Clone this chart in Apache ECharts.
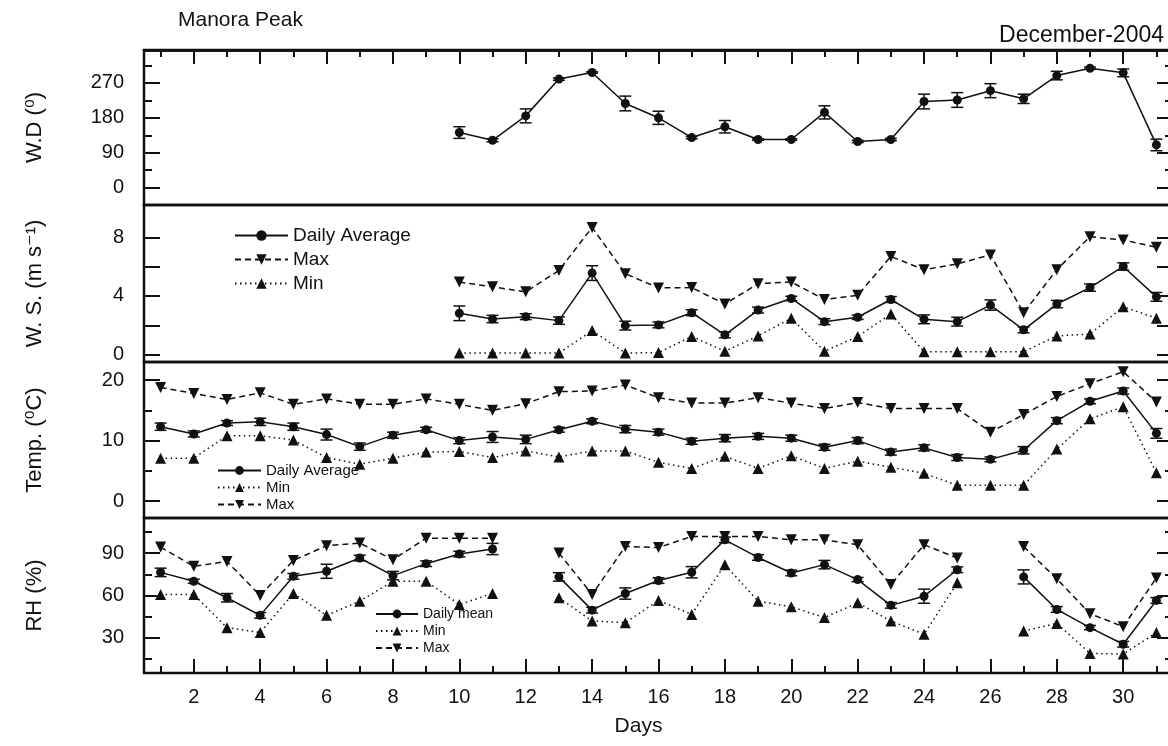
<!DOCTYPE html>
<html>
<head>
<meta charset="utf-8">
<script src="https://cdn.jsdelivr.net/npm/echarts@6/dist/echarts.min.js"></script>
<style>
  html, body { margin: 0; padding: 0; background: #fff; }
  #chart { width: 1168px; height: 746px; }
</style>
</head>
<body>
<div id="chart"></div>
<script>
  var days = [1, 2, 3, 4, 5, 6, 7, 8, 9, 10, 11, 12, 13, 14, 15, 16, 17, 18, 19, 20, 21, 22, 23, 24, 25, 26, 27, 28, 29, 30, 31];
  var _ = null;

  // wind direction (deg)
  var wdMean = [_, _, _, _, _, _, _, _, _, 142, 122, 185, 280, 297, 217, 180, 129, 157, 124, 124, 194, 119, 124, 222, 226, 250, 229, 289, 308, 296, 110];
  var wdErr = [_, _, _, _, _, _, _, _, _, 15, 4, 18, 3, 2, 19, 17, 3, 16, 2, 2, 17, 3, 3, 19, 19, 18, 12, 11, 3, 10, 15];

  // wind speed (m/s)
  var wsMean = [_, _, _, _, _, _, _, _, _, 2.82, 2.43, 2.59, 2.32, 5.56, 1.98, 2.03, 2.86, 1.35, 3.04, 3.83, 2.25, 2.55, 3.76, 2.41, 2.25, 3.38, 1.69, 3.45, 4.57, 6.01, 3.94];
  var wsErr = [_, _, _, _, _, _, _, _, _, 0.5, 0.25, 0.2, 0.25, 0.5, 0.3, 0.2, 0.2, 0.2, 0.2, 0.15, 0.2, 0.15, 0.2, 0.3, 0.3, 0.35, 0.2, 0.25, 0.25, 0.25, 0.3];
  var wsMax = [_, _, _, _, _, _, _, _, _, 4.95, 4.62, 4.28, 5.74, 8.67, 5.52, 4.55, 4.57, 3.45, 4.84, 4.95, 3.76, 4.05, 6.69, 5.79, 6.19, 6.8, 2.86, 5.79, 8.04, 7.82, 7.32];
  var wsMin = [_, _, _, _, _, _, _, _, _, 0.11, 0.11, 0.11, 0.11, 1.64, 0.11, 0.14, 1.24, 0.23, 1.28, 2.48, 0.23, 1.24, 2.77, 0.2, 0.2, 0.2, 0.2, 1.28, 1.4, 3.27, 2.48];

  // temperature (C)
  var tMean = [12.3, 11.1, 12.9, 13.1, 12.3, 11.0, 9.0, 10.9, 11.8, 10.0, 10.6, 10.2, 11.8, 13.2, 11.9, 11.4, 9.9, 10.4, 10.7, 10.4, 8.9, 10.0, 8.1, 8.8, 7.2, 6.9, 8.4, 13.3, 16.5, 18.2, 11.2];
  var tErr = [0.6, 0.5, 0.4, 0.6, 0.6, 0.9, 0.6, 0.5, 0.4, 0.5, 0.9, 0.7, 0.4, 0.4, 0.6, 0.5, 0.5, 0.6, 0.5, 0.5, 0.5, 0.5, 0.5, 0.5, 0.5, 0.4, 0.6, 0.5, 0.4, 0.5, 0.8];
  var tMax = [18.8, 17.8, 16.8, 17.9, 16.0, 16.9, 16.0, 16.0, 16.9, 16.0, 15.0, 16.1, 18.1, 18.2, 19.2, 17.1, 16.2, 16.2, 17.1, 16.2, 15.3, 16.3, 15.3, 15.3, 15.3, 11.4, 14.3, 17.3, 19.4, 21.4, 16.4];
  var tMin = [7.1, 7.1, 10.8, 10.8, 10.1, 7.2, 6.1, 7.1, 8.1, 8.2, 7.2, 8.3, 7.3, 8.3, 8.3, 6.4, 5.4, 7.4, 5.4, 7.5, 5.4, 6.6, 5.6, 4.6, 2.6, 2.6, 2.6, 8.6, 13.6, 15.6, 4.7];

  // relative humidity (%)
  var rhMean = [76.4, 70.1, 58.4, 45.9, 73.6, 77.2, 86.6, 74.1, 82.6, 89.4, 93.0, _, 73.2, 49.6, 61.4, 70.6, 76.5, 99.5, 87, 76, 81.9, 71.3, 53, 59.5, 78.3, _, 73.2, 50.1, 37.2, 25.4, 56.5];
  var rhErr = [3, 1.5, 3, 2, 2, 5, 2, 3, 2, 2, 4, _, 3, 2, 4, 2, 4, 2, 2, 2, 3, 1.5, 2, 5, 2, _, 5, 2, 1.5, 2, 2];
  var rhMax = [94.4, 80.7, 84.2, 60, 84.9, 95.3, 97.2, 85.4, 100.7, 100.7, 100.7, _, 90.1, 60.7, 94.8, 94, 101.9, 101.9, 101.9, 99.5, 99.5, 96, 67.8, 96, 86.6, _, 94.8, 71.8, 47.1, 37.9, 72.5];
  var rhMin = [60.7, 60.7, 37.2, 33.7, 61.4, 45.9, 56, 70.1, 70.1, 53.6, 61.4, _, 58.4, 41.9, 40.7, 56.5, 46.6, 81.9, 56, 52, 44.3, 54.8, 41.9, 32.5, 69, _, 34.8, 40.2, 18.9, 18.4, 33.7];

  // tick labels
  var dayLabels = [2, 4, 6, 8, 10, 12, 14, 16, 18, 20, 22, 24, 26, 28, 30];
  var dayMinor = [1, 3, 5, 7, 9, 11, 13, 15, 17, 19, 21, 23, 25, 27, 29, 31];
  var wdLabels = [0, 90, 180, 270];
  var wdMinor = [45, 135, 225, 315];
  var wsTicks = [0, 2, 4, 6, 8];
  var wsLabels = [0, 4, 8];
  var tLabels = [0, 10, 20];
  var tMinor = [5, 15];
  var rhLabels = [30, 60, 90];
  var rhMinor = [15, 45, 75, 105];

  var FONT = 'Liberation Sans, Arial, DejaVu Sans, sans-serif';
  var INK = '#111';

  var panels = [
    { top: 50, height: 155, min: -45, max: 355, ticks: wdLabels, labels: wdLabels, minor: wdMinor, name: 'W.D (⁰)' },
    { top: 205, height: 157, min: -0.5, max: 10.2, ticks: wsTicks, labels: wsLabels, minor: [], name: 'W. S. (m s⁻¹)' },
    { top: 362, height: 156, min: -2.8, max: 23, ticks: tLabels, labels: tLabels, minor: tMinor, name: 'Temp. (⁰C)' },
    { top: 518, height: 155, min: 5, max: 115, ticks: rhLabels, labels: rhLabels, minor: rhMinor, name: 'RH (%)' }
  ];

  function pairs(vals) {
    return days.map(function(d, i) { return [d, vals[i]]; });
  }
  function triples(vals, errs) {
    var out = [];
    days.forEach(function(d, i) {
      if (vals[i] != null) out.push([d, vals[i], errs[i]]);
    });
    return out;
  }

  function errBar(params, api) {
    var x = api.value(0), y = api.value(1), e = api.value(2);
    var hi = api.coord([x, y + e]);
    var lo = api.coord([x, y - e]);
    var w = 6;
    var st = { stroke: INK, lineWidth: 1.5 };
    return {
      type: 'group',
      children: [
        { type: 'line', shape: { x1: hi[0], y1: hi[1], x2: lo[0], y2: lo[1] }, style: st },
        { type: 'line', shape: { x1: hi[0] - w, y1: hi[1], x2: hi[0] + w, y2: hi[1] }, style: st },
        { type: 'line', shape: { x1: lo[0] - w, y1: lo[1], x2: lo[0] + w, y2: lo[1] }, style: st }
      ]
    };
  }

  var L = 144, R = -5;
  var grids = [], xAxes = [], yAxes = [];

  panels.forEach(function(p) {
    grids.push({ left: L, right: R, top: p.top, height: p.height, show: true, outerBoundsMode: 'none',
      borderColor: INK, borderWidth: 2.5, backgroundColor: 'transparent' });
  });
  panels.forEach(function(p) {
    grids.push({ left: L, right: R, top: p.top, height: p.height, show: false, outerBoundsMode: 'none' });
  });

  // main x axes (long ticks at even days)
  panels.forEach(function(p, i) {
    var ax = { type: 'value', gridIndex: i, min: 0.5, max: 31.5, show: i === 0 || i === 3,
      position: i === 0 ? 'top' : 'bottom',
      axisLine: { show: i === 0, onZero: false, lineStyle: { color: INK, width: 2.5 } }, splitLine: { show: false },
      axisTick: { show: true, inside: true, length: 14, customValues: dayLabels, lineStyle: { color: INK, width: 2 } },
      axisLabel: { show: false } };
    if (i === 3) {
      ax.axisLabel = { show: true, customValues: dayLabels, fontSize: 20, color: INK, fontFamily: FONT, margin: 14 };
      ax.name = 'Days';
      ax.nameLocation = 'middle';
      ax.nameGap = 43;
      ax.nameTextStyle = { fontSize: 21, color: INK, fontFamily: FONT, padding: [0, 40, 0, 0] };
    }
    xAxes.push(ax);
  });
  // overlay x axes (short ticks at odd days)
  panels.forEach(function(p, i) {
    xAxes.push({ type: 'value', gridIndex: 4 + i, min: 0.5, max: 31.5, show: i === 0 || i === 3,
      position: i === 0 ? 'top' : 'bottom',
      axisLine: { show: i === 0, onZero: false, lineStyle: { color: INK, width: 2.5 } }, splitLine: { show: false },
      axisTick: { show: true, inside: true, length: 7, customValues: dayMinor, lineStyle: { color: INK, width: 2 } },
      axisLabel: { show: false } });
  });

  // main left y axes
  panels.forEach(function(p, i) {
    yAxes.push({ type: 'value', gridIndex: i, min: p.min, max: p.max, position: 'left',
      axisLine: { show: false, onZero: false }, splitLine: { show: false },
      axisTick: { show: true, inside: true, length: 16, customValues: p.ticks, lineStyle: { color: INK, width: 2 } },
      axisLabel: { customValues: p.labels, fontSize: 20, color: INK, fontFamily: FONT, margin: 20 },
      name: p.name, nameLocation: 'middle', nameRotate: 90, nameGap: 98,
      nameTextStyle: { fontSize: 22, color: INK, fontFamily: FONT } });
  });
  // main right y axes
  panels.forEach(function(p, i) {
    yAxes.push({ type: 'value', gridIndex: i, min: p.min, max: p.max, position: 'right',
      axisLine: { show: false, onZero: false }, splitLine: { show: false },
      axisTick: { show: true, inside: true, length: 16, customValues: p.ticks, lineStyle: { color: INK, width: 2 } },
      axisLabel: { show: false } });
  });
  // overlay y axes, short ticks
  ['left', 'right'].forEach(function(pos) {
    panels.forEach(function(p, i) {
      yAxes.push({ type: 'value', gridIndex: 4 + i, min: p.min, max: p.max, position: pos,
        show: p.minor.length > 0,
        axisLine: { show: false, onZero: false }, splitLine: { show: false },
        axisTick: { show: true, inside: true, length: 8, customValues: p.minor.length ? p.minor : [p.min], lineStyle: { color: INK, width: 2 } },
        axisLabel: { show: false } });
    });
  });

  var series = [];
  function addPanel(i, meanName, mean, err, max, min) {
    series.push({ type: 'custom', xAxisIndex: i, yAxisIndex: i, renderItem: errBar,
      data: triples(mean, err), encode: { x: 0, y: 1 }, z: 3, silent: true });
    series.push({ name: meanName, type: 'line', xAxisIndex: i, yAxisIndex: i, data: pairs(mean),
      symbol: 'circle', symbolSize: 9, connectNulls: false, z: 4,
      lineStyle: { color: INK, width: 1.5, type: 'solid' }, itemStyle: { color: INK } });
    if (max) {
      series.push({ name: 'Max', type: 'line', xAxisIndex: i, yAxisIndex: i, data: pairs(max),
        symbol: 'triangle', symbolRotate: 180, symbolSize: 11, connectNulls: false,
        lineStyle: { color: INK, width: 1.5, type: [6, 4] }, itemStyle: { color: INK } });
    }
    if (min) {
      series.push({ name: 'Min', type: 'line', xAxisIndex: i, yAxisIndex: i, data: pairs(min),
        symbol: 'triangle', symbolSize: 11, connectNulls: false,
        lineStyle: { color: INK, width: 1.5, type: [1.5, 3.5] }, itemStyle: { color: INK } });
    }
  }
  addPanel(0, 'Direction', wdMean, wdErr, null, null);
  addPanel(1, 'Daily Average', wsMean, wsErr, wsMax, wsMin);
  addPanel(2, 'Daily Average', tMean, tErr, tMax, tMin);
  addPanel(3, 'Daily mean', rhMean, rhErr, rhMax, rhMin);

  var chart = echarts.init(document.getElementById('chart'));
  chart.setOption({
    animation: false,
    backgroundColor: '#fff',
    title: [
      { text: 'Manora Peak', left: 178, top: 10, padding: 0,
        textStyle: { fontSize: 21, fontWeight: 'normal', color: INK, fontFamily: FONT } },
      { text: 'December-2004', right: 4, top: 24, padding: 0,
        textStyle: { fontSize: 23, fontWeight: 'normal', color: INK, fontFamily: FONT } }
    ],
    legend: [
      { data: ['Daily Average', 'Max', 'Min'], orient: 'vertical', left: 234, top: 226,
        itemWidth: 53, itemHeight: 13, itemGap: 5, selectedMode: false, padding: 0,
        textStyle: { fontSize: 19, color: INK, fontFamily: FONT } },
      { data: ['Daily Average', 'Min', 'Max'], orient: 'vertical', left: 217, top: 463,
        itemWidth: 43, itemHeight: 11, itemGap: 2, selectedMode: false, padding: 0,
        textStyle: { fontSize: 15, color: INK, fontFamily: FONT } },
      { data: ['Daily mean', 'Min', 'Max'], orient: 'vertical', left: 375, top: 607,
        itemWidth: 42, itemHeight: 11, itemGap: 3, selectedMode: false, padding: 0,
        textStyle: { fontSize: 14, color: INK, fontFamily: FONT } }
    ],
    grid: grids,
    xAxis: xAxes,
    yAxis: yAxes,
    series: series
  });
</script>
</body>
</html>
